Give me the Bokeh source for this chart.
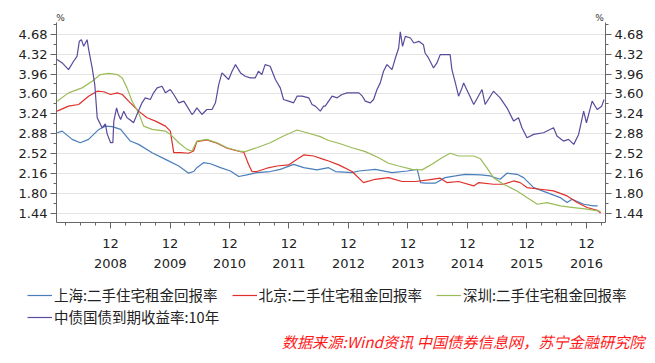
import pandas as pd
from bokeh.plotting import figure
from bokeh.layouts import column
from bokeh.models import (LinearAxis, FixedTicker, Range1d, Legend, LegendItem,
                          Label, PrintfTickFormatter)
from bokeh.embed import file_html
from bokeh.resources import INLINE

# ---------------- data ----------------
sh_dates = ["2008-01-08", "2008-02-08", "2008-04-09", "2008-05-29", "2008-07-19", "2008-09-20",
            "2008-10-30", "2008-12-11", "2009-02-01", "2009-04-01", "2009-05-22", "2009-08-13",
            "2009-11-03", "2010-01-24", "2010-03-25", "2010-04-25", "2010-05-15", "2010-06-25",
            "2010-08-06", "2010-10-07", "2010-12-07", "2011-01-27", "2011-03-18", "2011-05-18",
            "2011-08-08", "2011-10-09", "2011-12-30", "2012-03-01", "2012-05-21", "2012-08-01",
            "2012-09-12", "2012-12-23", "2013-02-03", "2013-05-14", "2013-08-25", "2013-11-26",
            "2014-01-27", "2014-02-16", "2014-03-16", "2014-05-17", "2014-07-17", "2014-09-18",
            "2014-11-18", "2015-02-19", "2015-04-20", "2015-06-20", "2015-08-01", "2015-10-02",
            "2015-11-11", "2016-01-12", "2016-04-03", "2016-06-23", "2016-08-04", "2016-09-04",
            "2016-11-14", "2017-01-14", "2017-02-08"]
sh_vals = [2.90, 2.93, 2.78, 2.72, 2.78, 2.96,
           3.02, 3.01, 2.96, 2.75, 2.69, 2.54,
           2.42, 2.30, 2.17, 2.20, 2.27, 2.36,
           2.34, 2.27, 2.21, 2.11, 2.14, 2.18,
           2.20, 2.24, 2.33, 2.27, 2.23, 2.27,
           2.20, 2.18, 2.21, 2.24, 2.18, 2.21,
           2.24, 2.00, 1.99, 1.99, 2.09, 2.12,
           2.15, 2.14, 2.12, 2.06, 2.17, 2.15,
           2.09, 1.91, 1.82, 1.73, 1.64, 1.70,
           1.61, 1.58, 1.58]

bj_dates = ["2008-01-08", "2008-03-18", "2008-05-19", "2008-07-19", "2008-09-10", "2008-10-20",
            "2008-12-01", "2009-01-11", "2009-02-11", "2009-03-22", "2009-05-22", "2009-07-13",
            "2009-09-03", "2009-11-03", "2009-12-03", "2009-12-24", "2010-02-04", "2010-03-25",
            "2010-04-25", "2010-05-15", "2010-07-15", "2010-09-16", "2010-11-17", "2011-02-07",
            "2011-02-27", "2011-03-28", "2011-04-18", "2011-05-18", "2011-07-19", "2011-09-19",
            "2011-11-29", "2012-01-20", "2012-03-01", "2012-05-01", "2012-07-01", "2012-08-01",
            "2012-10-02", "2012-12-23", "2013-03-03", "2013-05-14", "2013-08-04", "2013-10-25",
            "2014-01-16", "2014-04-06", "2014-06-17", "2014-07-28", "2014-10-08", "2015-01-09",
            "2015-02-09", "2015-05-10", "2015-07-11", "2015-09-11", "2015-10-21", "2015-12-02",
            "2016-02-22", "2016-05-13", "2016-08-04", "2016-10-05", "2016-12-05", "2017-02-05",
            "2017-02-26"]
bj_vals = [3.29, 3.38, 3.41, 3.56, 3.65, 3.64,
           3.59, 3.62, 3.59, 3.47, 3.29, 3.17,
           3.11, 3.02, 2.93, 2.54, 2.54, 2.53,
           2.57, 2.74, 2.77, 2.71, 2.62, 2.56,
           2.55, 2.33, 2.20, 2.20, 2.26, 2.30,
           2.32, 2.42, 2.50, 2.48, 2.42, 2.39,
           2.32, 2.20, 2.00, 2.06, 2.09, 2.02,
           2.02, 2.05, 2.08, 2.00, 2.02, 1.94,
           2.00, 1.97, 1.97, 2.03, 2.00, 1.91,
           1.88, 1.85, 1.76, 1.64, 1.55, 1.50,
           1.45]

sz_dates = ["2008-01-08", "2008-03-18", "2008-06-09", "2008-08-10", "2008-09-29", "2008-11-20",
            "2009-01-11", "2009-02-11", "2009-03-12", "2009-04-12", "2009-05-22", "2009-06-22",
            "2009-08-13", "2009-11-03", "2009-12-03", "2010-01-24", "2010-03-15", "2010-04-15",
            "2010-05-15", "2010-07-15", "2010-09-16", "2010-11-17", "2011-01-27", "2011-03-08",
            "2011-05-18", "2011-08-08", "2011-10-29", "2012-01-20", "2012-03-21", "2012-06-11",
            "2012-08-01", "2012-10-02", "2012-12-23", "2013-03-14", "2013-06-04", "2013-08-04",
            "2013-10-05", "2013-12-26", "2014-02-26", "2014-04-27", "2014-06-28", "2014-08-17",
            "2014-10-08", "2015-01-09", "2015-02-19", "2015-03-30", "2015-05-10", "2015-07-11",
            "2015-10-02", "2015-12-02", "2016-02-03", "2016-04-03", "2016-06-23", "2016-09-14",
            "2016-12-05", "2017-02-26"]
sz_vals = [3.47, 3.62, 3.71, 3.83, 3.95, 3.97,
           3.95, 3.89, 3.71, 3.47, 3.26, 3.02,
           2.96, 2.93, 2.87, 2.72, 2.60, 2.57,
           2.75, 2.78, 2.72, 2.63, 2.57, 2.56,
           2.63, 2.72, 2.84, 2.95, 2.90, 2.83,
           2.76, 2.71, 2.63, 2.56, 2.45, 2.35,
           2.30, 2.24, 2.23, 2.33, 2.45, 2.53,
           2.48, 2.48, 2.43, 2.27, 2.09, 1.97,
           1.85, 1.73, 1.61, 1.64, 1.58, 1.55,
           1.52, 1.48]

bond_dates = ["2008-01-08", "2008-02-08", "2008-03-18", "2008-04-18", "2008-05-09", "2008-05-23",
              "2008-06-05", "2008-06-19", "2008-07-10", "2008-07-19", "2008-08-10", "2008-08-26",
              "2008-09-10", "2008-09-20", "2008-10-10", "2008-10-30", "2008-11-10", "2008-12-01",
              "2008-12-15", "2008-12-21", "2009-01-07", "2009-01-17", "2009-02-01", "2009-02-20",
              "2009-03-12", "2009-04-01", "2009-04-21", "2009-05-12", "2009-06-12", "2009-07-02",
              "2009-08-02", "2009-08-22", "2009-09-13", "2009-10-13", "2009-11-03", "2009-12-03",
              "2009-12-24", "2010-01-24", "2010-02-24", "2010-03-15", "2010-04-15", "2010-04-25",
              "2010-05-15", "2010-06-15", "2010-07-15", "2010-08-16", "2010-09-06", "2010-09-26",
              "2010-10-16", "2010-11-06", "2010-11-26", "2010-12-17", "2011-01-07", "2011-02-07",
              "2011-03-08", "2011-04-08", "2011-05-08", "2011-05-28", "2011-06-18", "2011-07-08",
              "2011-08-08", "2011-09-09", "2011-10-09", "2011-10-29", "2011-11-29", "2011-12-30",
              "2012-01-20", "2012-02-20", "2012-04-01", "2012-04-21", "2012-05-11", "2012-06-11",
              "2012-07-01", "2012-07-11", "2012-08-01", "2012-08-22", "2012-09-22", "2012-10-22",
              "2012-11-22", "2012-12-23", "2013-02-03", "2013-02-24", "2013-03-14", "2013-04-14",
              "2013-05-04", "2013-05-25", "2013-06-14", "2013-07-04", "2013-07-25", "2013-08-25",
              "2013-09-15", "2013-10-05", "2013-10-15", "2013-10-29", "2013-11-15", "2013-12-16",
              "2014-01-06", "2014-02-06", "2014-03-06", "2014-03-16", "2014-04-06", "2014-05-07",
              "2014-05-28", "2014-06-17", "2014-07-17", "2014-08-17", "2014-08-28", "2014-09-18",
              "2014-10-08", "2014-10-29", "2014-11-08", "2015-01-09", "2015-03-01", "2015-03-20",
              "2015-05-10", "2015-06-20", "2015-08-01", "2015-09-11", "2015-10-11", "2015-11-01",
              "2015-12-02", "2016-01-12", "2016-03-12", "2016-05-13", "2016-06-03", "2016-07-13",
              "2016-08-13", "2016-09-14", "2016-10-14", "2016-11-14", "2016-12-01", "2017-01-05",
              "2017-02-05", "2017-03-05", "2017-03-19"]
bond_vals = [4.22, 4.16, 4.04, 4.19, 4.28, 4.55,
             4.58, 4.46, 4.58, 4.41, 4.07, 3.77,
             3.17, 3.11, 2.99, 3.06, 2.88, 2.72,
             2.72, 3.11, 3.35, 3.24, 3.14, 3.29,
             3.17, 3.13, 3.08, 3.23, 3.44, 3.53,
             3.50, 3.62, 3.71, 3.74, 3.62, 3.68,
             3.59, 3.44, 3.47, 3.38, 3.23, 3.26,
             3.35, 3.23, 3.32, 3.32, 3.44, 3.77,
             3.98, 3.92, 3.86, 4.01, 4.13, 3.98,
             3.92, 3.89, 3.89, 4.01, 3.95, 4.13,
             4.10, 3.86, 3.71, 3.50, 3.47, 3.44,
             3.56, 3.56, 3.53, 3.41, 3.38, 3.29,
             3.38, 3.38, 3.47, 3.56, 3.53, 3.59,
             3.62, 3.62, 3.62, 3.56, 3.47, 3.44,
             3.50, 3.68, 3.80, 4.01, 4.13, 4.04,
             4.25, 4.43, 4.72, 4.46, 4.64, 4.61,
             4.52, 4.55, 4.49, 4.34, 4.25, 4.07,
             4.16, 4.31, 4.31, 4.31, 4.04, 3.80,
             3.56, 3.71, 3.80, 3.41, 3.68, 3.41,
             3.65, 3.53, 3.35, 3.11, 3.17, 2.99,
             2.81, 2.87, 2.90, 2.99, 2.84, 2.75,
             2.78, 2.69, 2.87, 3.29, 3.08, 3.47,
             3.32, 3.38, 3.50]

series_names = ["上海:二手住宅租金回报率", "北京:二手住宅租金回报率",
                "深圳:二手住宅租金回报率", "中债国债到期收益率:10年"]
series_colors = ["#4a7ebb", "#e0302a", "#9bbb59", "#5b4a9c"]

y_ticks = [1.44, 1.80, 2.16, 2.52, 2.88, 3.24, 3.60, 3.96, 4.32, 4.68]
x_tick_years = [2008, 2009, 2010, 2011, 2012, 2013, 2014, 2015, 2016]
x_tick_month = "12"
unit_text = "%"
source_text = "数据来源:Wind资讯 中国债券信息网，苏宁金融研究院"

all_series = [(sh_dates, sh_vals), (bj_dates, bj_vals), (sz_dates, sz_vals), (bond_dates, bond_vals)]


def ms(s):
    return pd.Timestamp(s).value / 1e6


W = 655
TOP_H, MAIN_H, BOT_H = 22, 258, 80
tick_font = "DejaVu Sans"
cjk_font = "Noto Sans CJK SC"


def strip(h):
    f = figure(width=W, height=h, output_backend="svg", toolbar_location=None,
               x_axis_location=None, y_axis_location=None,
               x_range=Range1d(0, 1), y_range=Range1d(0, 1),
               min_border_left=0, min_border_right=0, min_border_top=0,
               min_border_bottom=0, frame_align=False)
    f.outline_line_color = None
    f.grid.visible = False
    return f


# ---------------- top strip: unit labels ----------------
top = strip(TOP_H)
for xx in (60, 599):
    top.add_layout(Label(x=xx, y=5, x_units="screen", y_units="screen", text=unit_text,
                         text_font=tick_font, text_font_size="9px", text_color="#333333",
                         text_align="center", text_baseline="middle"))

# ---------------- main chart ----------------
p = figure(width=W, height=MAIN_H, output_backend="svg", toolbar_location=None,
           x_axis_type="datetime",
           x_range=Range1d(ms("2008-01-04"), ms("2017-03-28")),
           y_range=Range1d(1.28, 4.89),
           min_border_left=56, min_border_right=50, min_border_top=0,
           min_border_bottom=58, frame_align=False)
p.outline_line_color = None

renderers = []
for (d, v), c in zip(all_series, series_colors):
    renderers.append(p.line(pd.to_datetime(d), v, line_color=c, line_width=1.2))

p.xgrid.visible = False
p.ygrid.ticker = FixedTicker(ticks=y_ticks)
p.ygrid.grid_line_color = "#e4e4e4"

minor_y = [round(1.26 + 0.18 * k, 2) for k in range(21)]


def style_y(ax):
    ax.ticker = FixedTicker(ticks=y_ticks, minor_ticks=minor_y)
    ax.formatter = PrintfTickFormatter(format="%.2f")
    ax.major_label_text_font = tick_font
    ax.major_label_text_font_size = "13px"
    ax.major_label_text_color = "#222222"
    ax.axis_line_color = "#666666"
    ax.major_tick_line_color = "#666666"
    ax.minor_tick_line_color = "#666666"
    ax.major_tick_out = 6
    ax.major_tick_in = 0
    ax.minor_tick_out = 3
    ax.minor_tick_in = 0
    ax.major_label_standoff = 3


style_y(p.yaxis[0])
ra = LinearAxis()
style_y(ra)
p.add_layout(ra, "right")

major_x = [ms(f"{y}-12-01") for y in x_tick_years]
minor_x = [ms(f"{y}-{m:02d}-01") for y in range(2008, 2018) for m in (3, 6, 9, 12)]

xa = p.xaxis[0]
xa.ticker = FixedTicker(ticks=major_x, minor_ticks=minor_x)
xa.major_label_overrides = {t: x_tick_month for t in major_x}
xa.axis_line_color = "#666666"
xa.major_tick_line_color = "#666666"
xa.minor_tick_line_color = "#666666"
xa.major_tick_out = 6
xa.major_tick_in = 0
xa.minor_tick_out = 3
xa.minor_tick_in = 0
xa.major_label_standoff = 10

# second row of x labels: the years
ya = LinearAxis(ticker=FixedTicker(ticks=major_x, minor_ticks=[]))
ya.major_label_overrides = {t: str(y) for t, y in zip(major_x, x_tick_years)}
ya.axis_line_color = None
ya.major_tick_line_color = None
ya.minor_tick_line_color = None
ya.major_tick_out = 0
ya.major_tick_in = 0
ya.major_label_standoff = 8
p.add_layout(ya, "below")

for ax in (xa, ya):
    ax.major_label_text_font = tick_font
    ax.major_label_text_font_size = "13px"
    ax.major_label_text_color = "#222222"

# ---------------- bottom strip: legend + source ----------------
bot = strip(BOT_H)
# legend proxies: the same series, lying outside this strip's ranges
proxies = [bot.line(pd.to_datetime(d), v, line_color=c, line_width=1.2)
           for (d, v), c in zip(all_series, series_colors)]
items = [LegendItem(label=n, renderers=[r]) for n, r in zip(series_names, proxies)]

legend_style = dict(orientation="horizontal", glyph_width=25, glyph_height=20,
                    label_height=20, label_standoff=2, spacing=14, padding=0, margin=0,
                    label_text_font=cjk_font, label_text_font_size="14.5px",
                    label_text_color="#222222", border_line_alpha=0,
                    background_fill_alpha=0)
bot.add_layout(Legend(items=items[:3], location=(27, 55), **legend_style), "center")
bot.add_layout(Legend(items=items[3:], location=(27, 33), **legend_style), "center")

bot.add_layout(Label(x=644, y=20, x_units="screen", y_units="screen", text=source_text,
                     text_font=cjk_font, text_font_size="15.2px",
                     text_font_style="italic", text_color="#ff1a1a",
                     text_align="right", text_baseline="middle"))

layout = column(top, p, bot, spacing=0)
open("out.html", "w").write(file_html(layout, INLINE))
